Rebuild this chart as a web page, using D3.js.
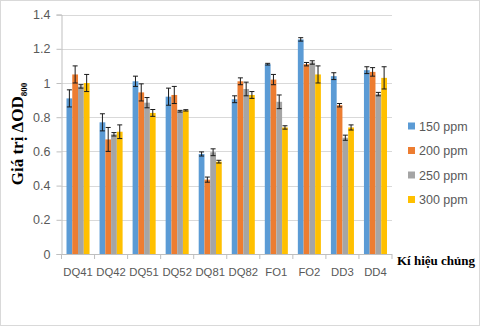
<!DOCTYPE html>
<html><head><meta charset="utf-8">
<script src="https://cdn.jsdelivr.net/npm/d3@7"></script>
<style>body{margin:0;background:#fff}svg{display:block}</style>
</head><body>
<svg id="c" width="480" height="326"></svg>
<script>
const categories = ["DQ41","DQ42","DQ51","DQ52","DQ81","DQ82","FO1","FO2","DD3","DD4"];
const seriesNames = ["150 ppm","200 ppm","250 ppm","300 ppm"];
const seriesColors = ["#5B9BD5","#ED7D31","#A5A5A5","#FFC000"];
const v150 = [0.91,0.77,1.01,0.92,0.585,0.905,1.11,1.255,1.04,1.075];
const v200 = [1.05,0.67,0.945,0.93,0.435,1.01,1.02,1.11,0.87,1.065];
const v250 = [0.98,0.70,0.885,0.835,0.595,0.965,0.89,1.12,0.68,0.935];
const v300 = [1.00,0.715,0.825,0.84,0.54,0.93,0.74,1.05,0.74,1.03];
const e150 = [0.05,0.05,0.03,0.05,0.012,0.02,0.005,0.01,0.02,0.02];
const e200 = [0.05,0.07,0.05,0.05,0.015,0.02,0.03,0.01,0.01,0.025];
const e250 = [0.01,0.01,0.03,0.005,0.02,0.04,0.04,0.01,0.015,0.01];
const e300 = [0.05,0.04,0.02,0.004,0.008,0.02,0.01,0.05,0.015,0.065];
const yTicks = [0,0.2,0.4,0.6,0.8,1.0,1.2,1.4];
const yTickLabels = ["0","0.2","0.4","0.6","0.8","1","1.2","1.4"];

const values = [v150,v200,v250,v300];
const errors = [e150,e200,e250,e300];

const svg = d3.select("#c");
svg.append("rect").attr("x",0.5).attr("y",0.5).attr("width",479).attr("height",325)
  .attr("fill","#fff").attr("stroke","#d9d9d9");

const L = 61.5, R = 392, T = 14.6, B = 254;
const x0 = d3.scaleBand().domain(categories).range([L,R]).padding(0);
const x1 = d3.scaleBand().domain(seriesNames).range([5, x0.bandwidth()-5]).padding(0);
const y = d3.scaleLinear().domain([0,1.4]).range([B,T]);

// gridlines
svg.append("g").selectAll("line").data(yTicks.slice(1)).join("line")
  .attr("x1",L).attr("x2",R).attr("y1",d=>Math.round(y(d))+0.5).attr("y2",d=>Math.round(y(d))+0.5)
  .attr("stroke","#d9d9d9").attr("stroke-width",1);

// bars
const g = svg.append("g");
seriesNames.forEach((s,si)=>{
  g.append("g").selectAll("rect").data(categories).join("rect")
    .attr("x",(c)=>x0(c)+x1(s)).attr("width",x1.bandwidth())
    .attr("y",(c,i)=>y(values[si][i])).attr("height",(c,i)=>y(0)-y(values[si][i]))
    .attr("fill",seriesColors[si]);
});
// error bars
seriesNames.forEach((s,si)=>{
  const eg = g.append("g").attr("stroke","#1a1a1a").attr("stroke-width",1);
  categories.forEach((c,i)=>{
    const cx = x0(c)+x1(s)+x1.bandwidth()/2;
    const v = values[si][i], e = errors[si][i];
    const y1 = y(v+e), y2 = y(v-e);
    eg.append("line").attr("x1",cx).attr("x2",cx).attr("y1",y1).attr("y2",y2);
    eg.append("line").attr("x1",cx-2.5).attr("x2",cx+2.5).attr("y1",y1).attr("y2",y1);
    eg.append("line").attr("x1",cx-2.5).attr("x2",cx+2.5).attr("y1",y2).attr("y2",y2);
  });
});

// y axis
const ya = svg.append("g").attr("transform",`translate(${L},0)`)
  .call(d3.axisLeft(y).tickValues(yTicks).tickFormat((d,i)=>yTickLabels[i]).tickSize(5).tickPadding(6));
ya.selectAll("path,line").attr("stroke","#bfbfbf");
ya.selectAll("text").attr("fill","#595959").attr("font-family","Liberation Sans, Arial, sans-serif").attr("font-size","12.5px");

// x axis
svg.append("line").attr("x1",L).attr("x2",R).attr("y1",B+0.5).attr("y2",B+0.5).attr("stroke","#bfbfbf");
svg.append("g").selectAll("line").data(categories.concat(["end"])).join("line")
  .attr("x1",(c,i)=>i<categories.length?x0(c):R).attr("x2",(c,i)=>i<categories.length?x0(c):R)
  .attr("y1",B).attr("y2",B+5).attr("stroke","#bfbfbf");
svg.append("g").selectAll("text").data(categories).join("text")
  .attr("x",c=>x0(c)+x0.bandwidth()/2).attr("y",276)
  .attr("text-anchor","middle").attr("fill","#595959")
  .attr("font-family","Liberation Sans, Arial, sans-serif").attr("font-size","11.3px").text(c=>c);

// y title
const yt = svg.append("text").attr("transform","translate(23,134) rotate(-90)")
  .attr("text-anchor","middle").attr("font-family","Liberation Serif, Times New Roman, serif")
  .attr("font-weight","bold").attr("font-size","17px").attr("fill","#000");
yt.append("tspan").text("Giá trị ΔOD");
yt.append("tspan").attr("font-size","9px").attr("dy",4).text("800");

// x title
svg.append("text").attr("x",397).attr("y",265).attr("font-family","Liberation Serif, Times New Roman, serif")
  .attr("font-weight","bold").attr("font-size","13px").attr("fill","#000").text("Kí hiệu  chủng");

// legend
const lg = svg.append("g");
seriesNames.forEach((s,i)=>{
  const cy = 126 + i*24.5;
  lg.append("rect").attr("x",408).attr("y",cy-3.5).attr("width",7).attr("height",7).attr("fill",seriesColors[i]);
  lg.append("text").attr("x",419).attr("y",cy+4.5).attr("fill","#595959")
    .attr("font-family","Liberation Sans, Arial, sans-serif").attr("font-size","12.5px").text(s);
});
</script>
</body></html>
